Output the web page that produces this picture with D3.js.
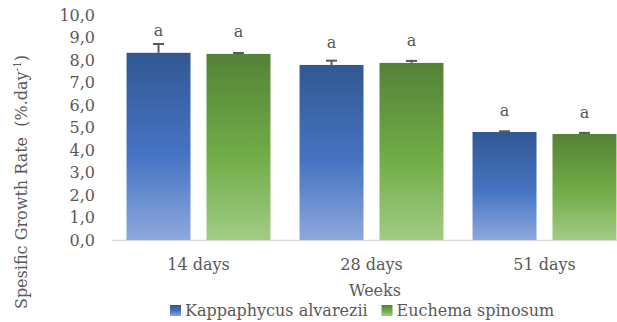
<!DOCTYPE html>
<html><head><meta charset="utf-8">
<script src="https://cdn.jsdelivr.net/npm/d3@7"></script>
<style>
html,body{margin:0;padding:0;background:#fff;overflow:hidden}
text{font-family:"DejaVu Serif",serif;fill:#595959}
</style></head>
<body><svg id="c" width="617" height="322"></svg>
<script>
const categories = ["14 days", "28 days", "51 days"];
const seriesNames = ["Kappaphycus alvarezii", "Euchema spinosum"];
const kappaValues = [8.32, 7.78, 4.80];
const kappaErrors = [0.39, 0.19, 0.03];
const euchemaValues = [8.27, 7.87, 4.71];
const euchemaErrors = [0.04, 0.09, 0.05];
const letters = [["a","a","a"],["a","a","a"]];
const yTicks = [0,1,2,3,4,5,6,7,8,9,10];

const FS = "16px";
const svg = d3.select("#c");
const defs = svg.append("defs");
function grad(id, stops){
  const g = defs.append("linearGradient").attr("id", id).attr("x1",0).attr("y1",0).attr("x2",0).attr("y2",1);
  stops.forEach(s=>g.append("stop").attr("offset",s[0]).attr("stop-color",s[1]));
}
grad("gBlue", [[0,"#325892"],[0.55,"#4674C4"],[1,"#8EA8DC"]]);
grad("gGreen", [[0,"#558237"],[0.55,"#71AD47"],[1,"#A2CC86"]]);
const fills = ["url(#gBlue)","url(#gGreen)"];

const y = d3.scaleLinear().domain([0,10]).range([240,15]);
const x0 = d3.scaleBand().domain(categories).range([112,631]).paddingInner(0.168).paddingOuter(0.084);
const x1 = d3.scaleBand().domain([0,1]).range([0,x0.bandwidth()]).paddingInner(0.2);

const data = categories.map((c,i)=>[
  {c, s:0, v:kappaValues[i], e:kappaErrors[i], l:letters[0][i]},
  {c, s:1, v:euchemaValues[i], e:euchemaErrors[i], l:letters[1][i]}
]).flat();

// baseline
svg.append("line").attr("x1",112).attr("x2",617).attr("y1",y(0)+0.5).attr("y2",y(0)+0.5)
  .attr("stroke","#D9D9D9").attr("stroke-width",1.5);

// y axis
const yAxis = d3.axisLeft(y).tickValues(yTicks).tickFormat(d=>d3.format(".1f")(d).replace(".",",")).tickSize(0).tickPadding(0);
const ga = svg.append("g").attr("transform","translate(95,0)").call(yAxis);
ga.select(".domain").remove();
ga.selectAll("text").style("font-size",FS).attr("fill","#595959").style("font-family","DejaVu Serif");

// bars
const bars = svg.append("g");
bars.selectAll("rect").data(data).join("rect")
  .attr("x",d=>x0(d.c)+x1(d.s)).attr("width",x1.bandwidth())
  .attr("y",d=>y(d.v)).attr("height",d=>y(0)-y(d.v))
  .attr("fill",d=>fills[d.s]);

// error bars
const eb = svg.append("g").attr("stroke","#595959").attr("stroke-width",2);
data.forEach(d=>{
  const cx = x0(d.c)+x1(d.s)+x1.bandwidth()/2;
  eb.append("line").attr("x1",cx).attr("x2",cx).attr("y1",y(d.v)).attr("y2",y(d.v+d.e));
  eb.append("line").attr("x1",cx-5.5).attr("x2",cx+5.5).attr("y1",y(d.v+d.e)).attr("y2",y(d.v+d.e));
});

// letters
svg.append("g").selectAll("text").data(data).join("text")
  .attr("x",d=>x0(d.c)+x1(d.s)+x1.bandwidth()/2)
  .attr("y",d=>y(d.v)-16.5)
  .attr("text-anchor","middle").style("font-size",FS).text(d=>d.l);

// x axis
const xAxis = d3.axisBottom(x0).tickSize(0).tickPadding(0);
const gx = svg.append("g").attr("transform","translate(0,270)").call(xAxis);
gx.select(".domain").remove();
gx.selectAll("text").style("font-size",FS).attr("fill","#595959").style("font-family","DejaVu Serif").attr("y",0).attr("dy","0");

// axis titles
svg.append("text").attr("x",375).attr("y",296).attr("text-anchor","middle").style("font-size",FS).text("Weeks");
const yt = svg.append("text").attr("transform","translate(27,182) rotate(-90)").attr("text-anchor","middle")
  .style("font-size",FS).style("white-space","pre");
yt.append("tspan").text("Spesific Growth Rate  (%.day");
yt.append("tspan").attr("baseline-shift","super").style("font-size","10.5px").text("-1");
yt.append("tspan").text(")");

// legend
const lg = svg.append("g");
const lx = [170, 381.5];
seriesNames.forEach((n,i)=>{
  lg.append("rect").attr("x",lx[i]).attr("y",305).attr("width",11).attr("height",11).attr("fill",fills[i]);
  lg.append("text").attr("x",lx[i]+15).attr("y",315.5).style("font-size",FS).text(n);
});
</script></body></html>
